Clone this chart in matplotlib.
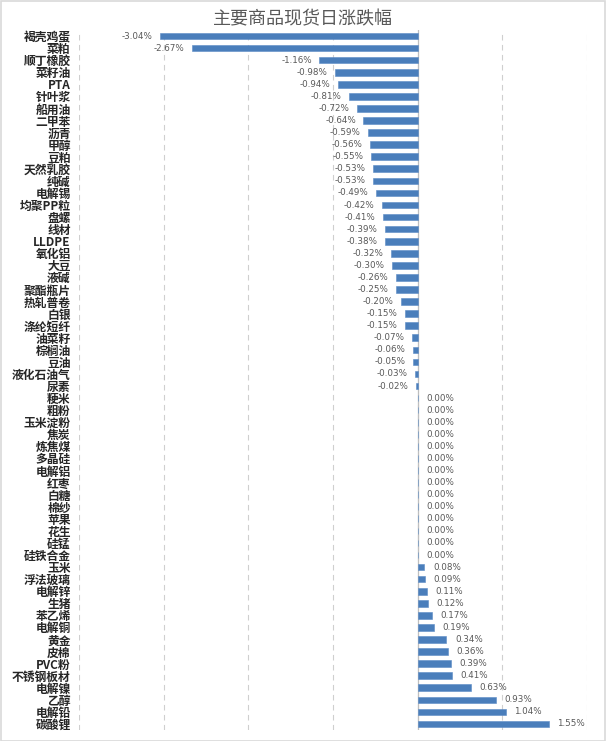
import matplotlib
matplotlib.use("Agg")
import matplotlib.pyplot as plt
from matplotlib.patches import Rectangle

plt.rcParams['font.family'] = ['Noto Sans CJK SC', 'DejaVu Sans']

categories = ["褐壳鸡蛋", "菜粕", "顺丁橡胶", "菜籽油", "PTA", "针叶浆", "船用油", "二甲苯",
              "沥青", "甲醇", "豆粕", "天然乳胶", "纯碱", "电解锡", "均聚PP粒", "盘螺", "线材",
              "LLDPE", "氧化铝", "大豆", "液碱", "聚酯瓶片", "热轧普卷", "白银", "涤纶短纤",
              "油菜籽", "棕榈油", "豆油", "液化石油气", "尿素", "粳米", "粗粉", "玉米淀粉",
              "焦炭", "炼焦煤", "多晶硅", "电解铝", "红枣", "白糖", "棉纱", "苹果", "花生",
              "硅锰", "硅铁合金", "玉米", "浮法玻璃", "电解锌", "生猪", "苯乙烯", "电解铜",
              "黄金", "皮棉", "PVC粉", "不锈钢板材", "电解镍", "乙醇", "电解铅", "碳酸锂"]
values = [-3.04, -2.67, -1.16, -0.98, -0.94, -0.81, -0.72, -0.64,
          -0.59, -0.56, -0.55, -0.53, -0.53, -0.49, -0.42, -0.41, -0.39,
          -0.38, -0.32, -0.30, -0.26, -0.25, -0.20, -0.15, -0.15,
          -0.07, -0.06, -0.05, -0.03, -0.02, 0.00, 0.00, 0.00,
          0.00, 0.00, 0.00, 0.00, 0.00, 0.00, 0.00, 0.00, 0.00,
          0.00, 0.00, 0.08, 0.09, 0.11, 0.12, 0.17, 0.19,
          0.34, 0.36, 0.39, 0.41, 0.63, 0.93, 1.04, 1.55]
title = "主要商品现货日涨跌幅"

W, H = 606, 741
fig = plt.figure(figsize=(W / 100, H / 100), dpi=100)
ax = fig.add_axes([79 / W, 1 - 730 / H, (587 - 79) / W, 700 / H])

y = list(range(len(categories)))
ax.barh(y, values, height=0.55, color='#4A7EBB', edgecolor='#5B8BC6', linewidth=0.4, zorder=3)

ax.set_xlim(-4, 2)
ax.set_ylim(len(categories) - 0.5, -0.5)
ax.set_xticks([-4, -3, -2, -1, 0, 1, 2])
ax.set_xticklabels([])
ax.tick_params(axis='x', length=0)
ax.grid(axis='x', linestyle=(0, (5, 4)), color='#cfcfcf', linewidth=0.8, zorder=0)
ax.axvline(0, color='#bfbfbf', linewidth=0.9, zorder=2)
for s in ax.spines.values():
    s.set_visible(False)

ax.set_yticks(y)
ax.set_yticklabels(categories, fontsize=8.5, fontweight='bold', color='#262626')
ax.tick_params(axis='y', length=0, pad=6)

for yi, v in zip(y, values):
    txt = f"{v:.2f}%"
    if v < 0:
        ax.text(v - 0.09, yi, txt, ha='right', va='center', fontsize=6.3, color='#595959',
                family='DejaVu Sans')
    else:
        ax.text(v + 0.1, yi, txt, ha='left', va='center', fontsize=6.3, color='#595959',
                family='DejaVu Sans')

fig.text(0.5, 1 - 19 / H, title, ha='center', va='center', fontsize=13, color='#595959')

fig.patches.append(Rectangle((0.5 / W, 0.5 / H), 1 - 1.5 / W, 1 - 1.5 / H, transform=fig.transFigure,
                             fill=False, edgecolor='#d9d9d9', linewidth=1.2))

fig.savefig("out.png", dpi=100)
